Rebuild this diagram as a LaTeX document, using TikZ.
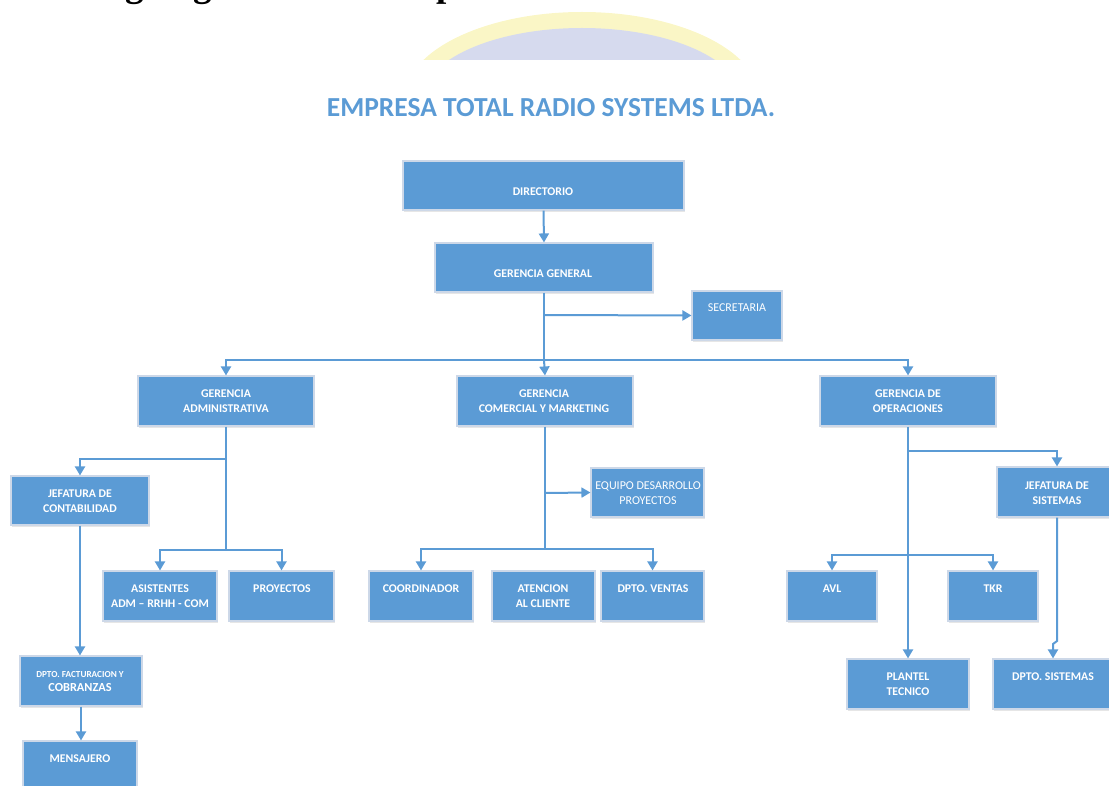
\documentclass[tikz,border=0pt]{standalone}
\usepackage{fontspec}
\setmainfont{Carlito}
\newfontfamily\titleserif{Liberation Serif}
\usetikzlibrary{arrows.meta,fit,shadows}
\definecolor{boxblue}{HTML}{5B9BD5}
\definecolor{boxedge}{HTML}{CDD8E8}
\definecolor{wmyellow}{HTML}{FAF6C6}
\definecolor{wmlav}{HTML}{D6DAEE}
\tikzset{
  box/.style={fill=boxblue, draw=boxedge, line width=1.1pt, inner sep=0pt,
    drop shadow={shadow xshift=1.2pt, shadow yshift=-1.8pt, opacity=0.2}},
  txt/.style={text=white, font=\bfseries\fontsize{11.8}{15}\selectfont, align=center, inner sep=0pt},
  txtreg/.style={text=white, font=\fontsize{12}{15}\selectfont, align=center, inner sep=0pt},
  conn/.style={draw=boxblue, line width=2pt, -{Triangle[length=9pt,width=10pt]}},
  wire/.style={draw=boxblue, line width=2pt},
}
\begin{document}
\begin{tikzpicture}[x=1pt,y=-1pt]
\useasboundingbox (0,0) rectangle (1109,786);
% heading, cut off at the top edge as in the reference
\node[anchor=base west, inner sep=0pt, font=\titleserif\bfseries\fontsize{37}{40}\selectfont] (head) at (80,-3) {Organigrama de la empresa};
% faded watermark
\begin{scope}
  \clip (0,0) rectangle (1109,60);
  \fill[wmyellow] (582,100) ellipse [x radius=178, y radius=88];
  \fill[wmlav] (582,100) ellipse [x radius=160, y radius=72];
\end{scope}
% title
\node[text=boxblue, font=\bfseries\fontsize{27.5}{30}\selectfont, inner sep=0pt] (title) at (551,108) {EMPRESA TOTAL RADIO SYSTEMS LTDA.};

% boxes
\node[box, fit={(403,161) (684,210)}] (dir) {};
\node[box, fit={(435,243) (653,292)}] (gg) {};
\node[box, fit={(692,291) (782,340)}] (sec) {};
\node[box, fit={(138,376) (314,426)}] (ga) {};
\node[box, fit={(457,376) (633,426)}] (gcm) {};
\node[box, fit={(820,376) (996,426)}] (go) {};
\node[box, fit={(11,476) (149,525)}] (jc) {};
\node[box, fit={(591,468) (704,517)}] (eq) {};
\node[box, fit={(997,467) (1117,517)}] (js) {};
\node[box, fit={(103,571) (217,621)}] (asis) {};
\node[box, fit={(229,571) (334,621)}] (proy) {};
\node[box, fit={(369,571) (473,621)}] (coord) {};
\node[box, fit={(492,571) (595,621)}] (aten) {};
\node[box, fit={(601,571) (704,621)}] (vent) {};
\node[box, fit={(787,571) (877,621)}] (avl) {};
\node[box, fit={(948,571) (1038,621)}] (tkr) {};
\node[box, fit={(20,656) (142,706)}] (df) {};
\node[box, fit={(847,659) (969,709)}] (plant) {};
\node[box, fit={(993,659) (1113,709)}] (ds) {};
\node[box, fit={(23,741) (137,791)}] (mens) {};

% texts
\node[txt] (dir-t) at (543,192) {DIRECTORIO};
\node[txt] (gg-t) at (543,274) {GERENCIA GENERAL};
\node[txtreg] (sec-t) at (737,308) {SECRETARIA};
\node[txt] (ga-t) at (226,401.5) {GERENCIA\\ADMINISTRATIVA};
\node[txt] (gcm-t) at (544,401.5) {GERENCIA\\COMERCIAL Y MARKETING};
\node[txt] (go-t) at (908,401.5) {GERENCIA DE\\OPERACIONES};
\node[txt] (jc-t) at (80,501) {JEFATURA DE\\CONTABILIDAD};
\node[txtreg] (eq-t) at (648,493) {EQUIPO DESARROLLO\\PROYECTOS};
\node[txt] (js-t) at (1057,493) {JEFATURA DE\\SISTEMAS};
\node[txt] (asis-t) at (160,596.5) {ASISTENTES\\ADM – RRHH - COM};
\node[txt] (proy-t) at (282,589) {PROYECTOS};
\node[txt] (coord-t) at (421,589) {COORDINADOR};
\node[txt] (aten-t) at (543,596.5) {ATENCION\\AL CLIENTE};
\node[txt] (vent-t) at (653,589) {DPTO. VENTAS};
\node[txt] (avl-t) at (832,589) {AVL};
\node[txt] (tkr-t) at (993,589) {TKR};
\node[txt] (df-t1) at (80,675) {\fontsize{9.2}{10}\selectfont DPTO. FACTURACION Y};
\node[txt] (df-t2) at (80,688) {\fontsize{12.3}{13}\selectfont COBRANZAS};
\node[txt] (plant-t) at (908,684.5) {PLANTEL\\TECNICO};
\node[txt] (ds-t) at (1053,677) {DPTO. SISTEMAS};
\node[txt] (mens-t) at (80,759) {MENSAJERO};

% junction points
\coordinate (g1) at (544,315);
\coordinate (b1) at (544,360);
\coordinate (a1) at (226,459);
\coordinate (a2) at (226,550);
\coordinate (c1) at (545,493);
\coordinate (c2) at (545,549);
\coordinate (o1) at (908,451);
\coordinate (o2) at (908,555);
\coordinate (s1) at (1057,641);
\coordinate (s2) at (1053,644);

% connectors
\draw[conn] (dir.south) -- (gg.north);
\draw[wire] (gg.south) -- (b1);
\draw[conn] (g1) -- (sec.west);
\draw[conn] (b1) -| (ga.north);
\draw[conn] (b1) -| (go.north);
\draw[conn] (b1) -- (gcm.north);

\draw[wire] (ga.south) -- (a2);
\draw[conn] (a1) -| (jc.north);
\draw[conn] (a2) -| (asis.north);
\draw[conn] (a2) -| (proy.north);
\draw[conn] (jc.south) -- (jc.south |- df.north);
\draw[conn] (df.south) -- (df.south |- mens.north);

\draw[wire] (gcm.south) -- (c2);
\draw[conn] (c1) -- (eq.west);
\draw[conn] (c2) -| (coord.north);
\draw[conn] (c2) -| (vent.north);

\draw[conn] (go.south) -- (plant.north);
\draw[conn] (o1) -| (js.north);
\draw[conn] (o2) -| (avl.north);
\draw[conn] (o2) -| (tkr.north);
\draw[conn] (js.south) -- (s1) -- (s2) -- (ds.north);
\end{tikzpicture}
\end{document}
